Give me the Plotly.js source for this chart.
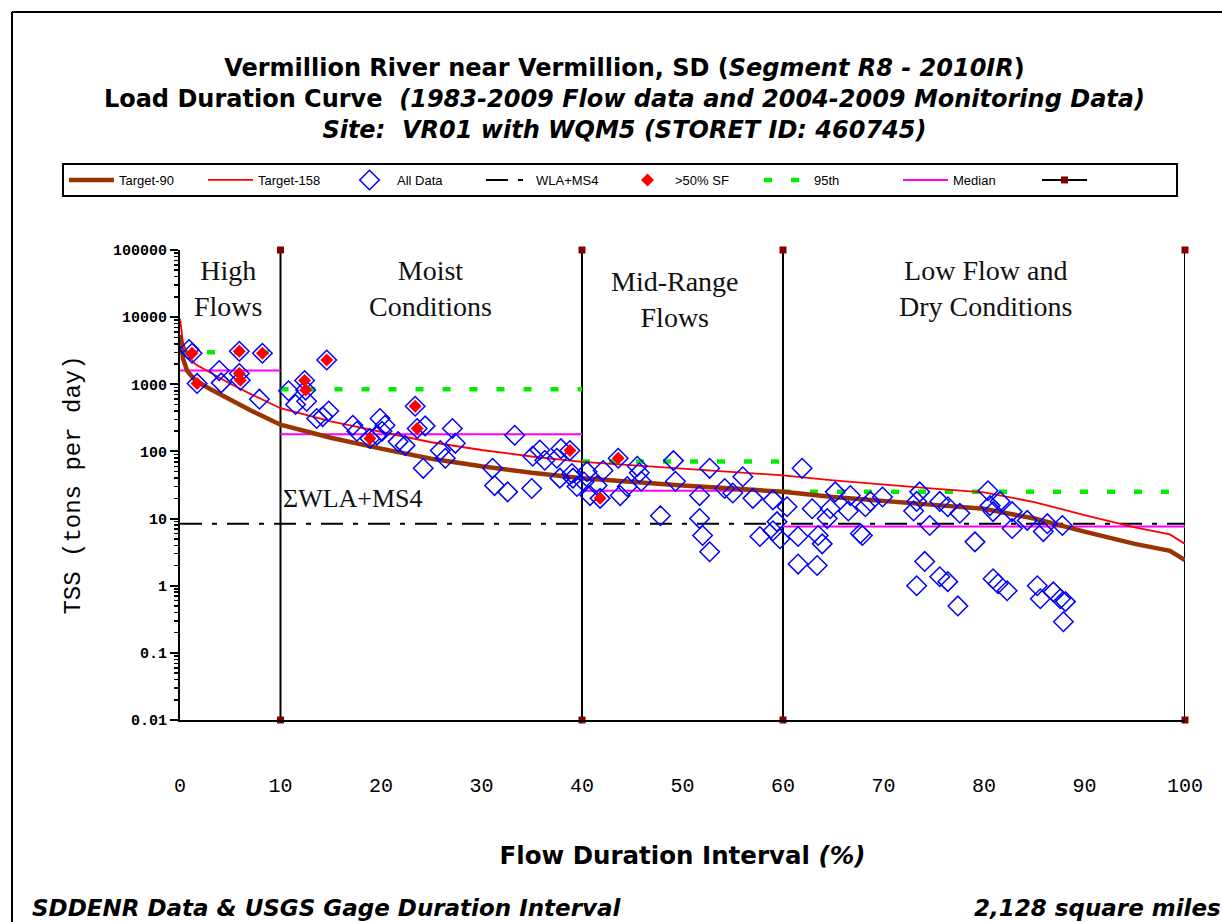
<!DOCTYPE html>
<html>
<head>
<meta charset="utf-8">
<script src="https://cdn.plot.ly/plotly-3.0.1.min.js"></script>
<style>
  html, body { margin: 0; padding: 0; background: #fff; }
  #chart { width: 1222px; height: 922px; }
</style>
</head>
<body>
<div id="chart"></div>
<script>
// ---------- DATA ----------
// Flow duration interval (%) for the target curves
const curveX = [0, 0.3, 0.7, 1.5, 3, 5, 7, 10, 15, 20, 25, 30, 35, 40, 45, 50, 55, 60, 65, 70, 75, 80, 85, 90, 95, 98.5, 100];
// Target-90 (tons/day)
const target90 = [5400, 2400, 1600, 1150, 850, 580, 410, 250, 160, 110, 78, 60, 48, 40, 35, 31, 28, 25, 21, 18, 16, 14, 10, 6.4, 4.2, 3.3, 2.4];
// Target-158 (tons/day)
const target158 = [9500, 4200, 2800, 2000, 1500, 1020, 720, 440, 280, 195, 137, 105, 84, 70, 62, 55, 49, 44, 37, 32, 28, 24.6, 17.6, 11.3, 7.4, 5.8, 4.2];

// All monitoring data (flow duration %, TSS load tons/day)
const allX = [0.9, 1.2, 1.7, 3.9, 4.1, 5.9, 5.9, 6.0, 8.2, 7.9,
  10.8, 11.5, 12.4, 12.5, 12.6, 13.6, 14.2, 14.6, 14.8, 17.2, 17.6, 18.9, 19.6, 19.9, 20.1, 20.4, 21.7, 22.4,
  23.4, 23.6, 24.2, 24.4, 25.9, 26.4, 27.1, 27.4, 31.1, 31.3, 32.6, 33.3, 35.0, 35.1, 35.8, 36.3, 37.5, 37.8, 37.9, 38.8, 39.0, 39.1, 39.5,
  40.2, 40.5, 40.8, 41.5, 41.8, 42.1, 43.6, 43.8, 44.5, 45.5, 45.7, 45.9, 47.8, 49.1, 49.3, 51.7, 51.7, 52.0, 52.7, 52.7, 54.2, 55.0, 56.0, 57.0, 57.7, 59.0, 59.0, 59.4, 59.7,
  60.4, 61.5, 61.5, 61.9, 62.9, 63.4, 63.5, 63.9, 64.4, 64.7, 65.2, 66.5, 66.7, 67.7, 67.9, 68.2, 68.7, 69.9,
  73.0, 73.3, 73.3, 73.6, 74.1, 74.6, 75.6, 75.6, 76.4, 76.4, 77.4, 77.6, 79.1,
  80.4, 80.6, 80.9, 80.9, 81.4, 81.6, 82.3, 82.8, 82.8, 84.3, 85.3, 85.6, 85.9, 86.3, 86.9, 87.6, 87.8, 87.9, 88.1];
const allY = [3300, 2900, 1030, 1600, 1050, 3100, 1450, 1150, 2900, 600,
  800, 500, 1140, 820, 560, 310, 330, 2300, 400, 245, 200, 156, 175, 310, 200, 245, 140, 123,
  470, 220, 56, 240, 103, 79, 220, 132, 56, 31, 25, 174, 28, 85, 105, 74, 79, 40, 110, 103, 47, 40, 30,
  35, 50, 22, 31, 20, 52, 79, 22, 30, 60, 48, 36, 11, 73, 36, 22, 10, 5.6, 3.2, 56, 28, 24, 42, 20, 5.4, 19, 6.6, 9, 5.0,
  15, 5.4, 2.1, 56, 14, 2.0, 5.6, 4.2, 10, 14, 25, 13, 22, 6.0, 5.6, 15, 18, 21,
  13, 18, 1.0, 25, 2.3, 7.9, 18, 1.36, 15, 1.15, 0.5, 12, 4.5,
  26, 15.6, 12.7, 1.27, 1.07, 18, 0.84, 12.7, 7.1, 9.4, 1.0, 0.64, 6.4, 8.4, 0.81, 0.64, 7.9, 0.29, 0.58];

// Samples with >50% storm flow
const sfX = [1.2, 1.7, 5.9, 5.9, 6.0, 8.2, 12.4, 12.5, 14.6, 18.9, 23.4, 23.6, 38.8, 41.8, 43.6];
const sfY = [2900, 1030, 3100, 1450, 1150, 2900, 1140, 820, 2300, 156, 470, 220, 103, 20, 79];

// Flow zones and per-zone statistics
const zoneEdges = [0, 10, 40, 60, 100];
const medianVals = [1600, 180, 26, 7.6];
const p95Vals = [3000, 840, 71, 25];
const wlaVal = 8.4;
const dividerX = [10, 40, 60, 100];

const zoneNames = ["High<br>Flows", "Moist<br>Conditions", "Mid-Range<br>Flows", "Low Flow and<br>Dry Conditions"];
const zoneLabelX = [4.8, 24.9, 49.25, 80.1];
const zoneLabelY = [4.43, 4.43, 4.27, 4.43];

const yTickVals = [0.01, 0.1, 1, 10, 100, 1000, 10000, 100000];
const yTickText = ["0.01", "0.1", "1", "10", "100", "1000", "10000", "100000"];
const xTickVals = [0, 10, 20, 30, 40, 50, 60, 70, 80, 90, 100];

const legendNames = ["Target-90", "Target-158", "All Data", "WLA+MS4", ">50% SF", "95th", "Median", " "];

// ---------- BUILD ----------
function stepSegments(edges, vals) {
  const xs = [], ys = [];
  for (let i = 0; i < vals.length; i++) {
    xs.push(edges[i], edges[i + 1], null);
    ys.push(vals[i], vals[i], null);
  }
  return { xs, ys };
}
const med = stepSegments(zoneEdges, medianVals);
const p95 = stepSegments(zoneEdges, p95Vals);

const divX = [], divY = [];
dividerX.forEach(v => { divX.push(v, v, null); divY.push(yTickVals[yTickVals.length - 1], yTickVals[0], null); });

const traces = [
  { x: divX, y: divY, type: 'scatter', mode: 'lines+markers', name: legendNames[7], legendrank: 8,
    line: { color: '#000', width: 2 }, cliponaxis: false,
    marker: { symbol: 'square', size: 7, color: '#800000' } },
  { x: [zoneEdges[0], zoneEdges[zoneEdges.length - 1]], y: [wlaVal, wlaVal], type: 'scatter', mode: 'lines',
    name: legendNames[3], legendrank: 4, line: { color: '#000', width: 2, dash: '22px,10px,5px,10px' } },
  { x: p95.xs, y: p95.ys, type: 'scatter', mode: 'lines', name: legendNames[5], legendrank: 6,
    line: { color: '#00ee00', width: 4.5, dash: '8px,19px' } },
  { x: med.xs, y: med.ys, type: 'scatter', mode: 'lines', name: legendNames[6], legendrank: 7,
    line: { color: '#ff00ff', width: 2 } },
  { x: curveX, y: target158, type: 'scatter', mode: 'lines', name: legendNames[1], legendrank: 2,
    line: { color: '#ff0000', width: 1.8, shape: 'linear' } },
  { x: curveX, y: target90, type: 'scatter', mode: 'lines', name: legendNames[0], legendrank: 1,
    line: { color: '#993300', width: 4.5 } },
  { x: allX, y: allY, type: 'scatter', mode: 'markers', name: legendNames[2], legendrank: 3,
    marker: { symbol: 'diamond-open', size: 15, color: '#0000ff', line: { width: 1.5, color: '#0000ff' } } },
  { x: sfX, y: sfY, type: 'scatter', mode: 'markers', name: legendNames[4], legendrank: 5,
    marker: { symbol: 'diamond', size: 10, color: '#ff0000', line: { width: 0 } } }
];

const W = 1222, H = 922, L = 180, R = 37, T = 250, B = 202;
const pw = W - L - R, ph = H - T - B;
const px = v => (v - L) / pw;
const py = v => (H - B - v) / ph;

const annotations = zoneNames.map((t, i) => ({
  x: zoneLabelX[i], y: zoneLabelY[i], xref: 'x', yref: 'y', text: t, showarrow: false,
  font: { family: 'Liberation Serif, serif', size: 28, color: '#111' }, align: 'center'
}));
annotations.push({ x: dividerX[0], y: Math.log10(wlaVal) + 0.37, xref: 'x', yref: 'y', text: 'ΣWLA+MS4',
  showarrow: false, xanchor: 'left', font: { family: 'Liberation Serif, serif', size: 26, color: '#111' } });
annotations.push({ x: px(30), y: py(908), xref: 'paper', yref: 'paper', xanchor: 'left', yanchor: 'middle',
  text: '<b><i>SDDENR Data &amp; USGS Gage Duration Interval</i></b>', showarrow: false,
  font: { family: 'DejaVu Sans, sans-serif', size: 23, color: '#000' } });
annotations.push({ x: px(972), y: py(908), xref: 'paper', yref: 'paper', xanchor: 'left', yanchor: 'middle',
  text: '<b><i>2,128 square miles</i></b>', showarrow: false,
  font: { family: 'DejaVu Sans, sans-serif', size: 23, color: '#000' } });

const layout = {
  width: W, height: H,
  margin: { l: L, r: R, t: T, b: B, pad: 0 },
  paper_bgcolor: '#fff', plot_bgcolor: '#fff',
  showlegend: true,
  title: {
    text: '<b>Vermillion River near Vermillion, SD (<i>Segment R8 - 2010IR</i>)<br>Load Duration Curve  <i>(1983-2009 Flow data and 2004-2009 Monitoring Data)</i><br><i>Site:  VR01 with WQM5 (STORET ID: 460745)</i></b>',
    x: 0.511, xanchor: 'center', xref: 'container',
    y: 1 - 76 / H, yanchor: 'top', yref: 'container',
    font: { family: 'DejaVu Sans, sans-serif', size: 24, color: '#000' }
  },
  legend: {
    orientation: 'h', x: px(62), xanchor: 'left', y: py(163), yanchor: 'top',
    bgcolor: '#fff', bordercolor: '#000', borderwidth: 2,
    font: { family: 'Liberation Sans, sans-serif', size: 13, color: '#000' },
    itemwidth: 45, entrywidth: 79, traceorder: 'normal', itemclick: false, tracegroupgap: 0,
    valign: 'middle'
  },
  xaxis: {
    range: [0, 100], tickvals: xTickVals, ticks: '', showgrid: false, zeroline: false,
    showline: true, linecolor: '#000', linewidth: 2,
    tickfont: { family: 'Liberation Mono, monospace', size: 20, color: '#000' },
    ticklabelstandoff: 46,
    title: { text: '<b>Flow Duration Interval <i>(%)</i></b>', standoff: 50,
      font: { family: 'DejaVu Sans, sans-serif', size: 24.5, color: '#000' } }
  },
  yaxis: {
    type: 'log', range: [-2, 5], tickvals: yTickVals, ticktext: yTickText,
    ticks: 'outside', ticklen: 8, tickwidth: 2, tickcolor: '#000',
    minor: { dtick: 'D1', ticks: 'outside', ticklen: 4, tickwidth: 1.5, tickcolor: '#000', showgrid: false },
    showgrid: false, zeroline: false, showline: true, linecolor: '#000', linewidth: 2,
    tickfont: { family: 'Liberation Mono, monospace', size: 15, color: '#000', weight: 'bold' },
    title: { text: 'TSS (tons per day)', standoff: 26,
      font: { family: 'Liberation Mono, monospace', size: 24, color: '#000' } }
  },
  annotations: annotations,
  shapes: [
    { type: 'line', xref: 'paper', yref: 'paper', x0: px(12), x1: px(12), y0: py(12), y1: py(930), line: { color: '#000', width: 2 } },
    { type: 'line', xref: 'paper', yref: 'paper', x0: px(12), x1: px(1230), y0: py(12), y1: py(12), line: { color: '#000', width: 2 } }
  ]
};

Plotly.newPlot('chart', traces, layout, { staticPlot: true, displayModeBar: false });
</script>
</body>
</html>
